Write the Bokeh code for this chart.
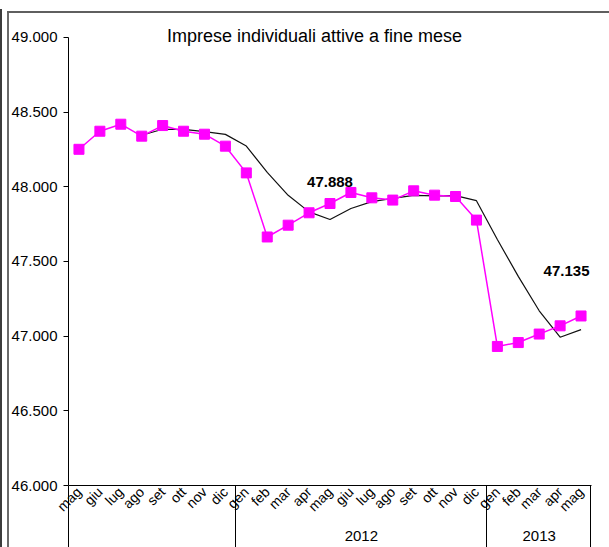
import math
from bokeh.plotting import figure
from bokeh.models import FactorRange, Range1d, FixedTicker, Label, ColumnDataSource
from bokeh.embed import file_html
from bokeh.resources import INLINE

# ---- data ----
year_groups = [" "] * 8 + ["2012"] * 12 + ["2013"] * 5
months = ["mag", "giu", "lug", "ago", "set", "ott", "nov", "dic",
          "gen", "feb", "mar", "apr", "mag", "giu", "lug", "ago", "set", "ott", "nov", "dic",
          "gen", "feb", "mar", "apr", "mag"]
imprese = [48251, 48372, 48419, 48339, 48410, 48372, 48352, 48272,
           48093, 47664, 47743, 47826, 47888, 47962, 47926, 47911, 47973, 47944, 47935, 47777,
           46931, 46957, 47014, 47069, 47135]
media_mobile = [float("nan"), float("nan"), float("nan"), 48345, 48385, 48385, 48369, 48351,
                48273, 48096, 47943, 47832, 47781, 47855, 47901, 47922, 47943, 47939, 47941, 47907,
                47647, 47400, 47170, 46993, 47044]
y_ticks = [46000, 46500, 47000, 47500, 48000, 48500, 49000]
y_tick_labels = ["46.000", "46.500", "47.000", "47.500", "48.000", "48.500", "49.000"]
title_text = "Imprese individuali attive a fine mese"
labelled_points = [12, 24]
labelled_texts = ["47.888", "47.135"]

FONT = "Liberation Sans"

factors = list(zip(year_groups, months))
src = ColumnDataSource(data=dict(x=factors, imprese=imprese, mm=media_mobile))

xr = FactorRange(*factors, factor_padding=0, subgroup_padding=0, group_padding=0, range_padding=0)

# chart-area frame (border of the chart box and the category separators below the axis)
frame_layers = [
    ("#5f5f5f", "7px 11px", "602px 2px"),
    ("#6a6a6a", "7px 11px", "2px 536px"),
    ("#3c3c3c", "0px 9px", "2px 538px"),
    ("#000000", "68px 486px", "1px 61px"),
    ("#000000", "235px 486px", "1px 61px"),
    ("#000000", "486px 486px", "1px 61px"),
    ("#000000", "590px 486px", "1px 61px"),
]
css = {
    "background-color": "white",
    "background-image": ", ".join(f"linear-gradient({c}, {c})" for c, _, _ in frame_layers),
    "background-position": ", ".join(pos for _, pos, _ in frame_layers),
    "background-size": ", ".join(sz for _, _, sz in frame_layers),
    "background-repeat": "no-repeat",
}

p = figure(x_range=xr, y_range=Range1d(46000, 49100), width=609, height=547,
           output_backend="svg", toolbar_location=None,
           min_border_left=68, min_border_right=18, min_border_top=22, min_border_bottom=61)
p.styles = css
p.outline_line_color = None
p.grid.visible = False
p.background_fill_color = "white"
p.border_fill_color = None

# y axis
ya = p.yaxis[0]
ya.bounds = (46000, 49000)
ya.ticker = FixedTicker(ticks=y_ticks)
ya.major_label_overrides = dict(zip(y_ticks, y_tick_labels))
ya.major_label_text_font = FONT
ya.major_label_text_font_size = "15px"
ya.major_label_text_color = "#000000"
ya.axis_line_color = "#000000"
ya.major_tick_line_color = "#000000"
ya.major_tick_out = 5
ya.major_tick_in = 0
ya.minor_tick_line_color = None
ya.major_label_standoff = 6

# x axis
xa = p.xaxis[0]
xa.major_label_orientation = math.pi / 4
xa.major_label_text_font = FONT
xa.major_label_text_font_size = "14px"
xa.major_label_text_color = "#000000"
xa.major_tick_line_color = None
xa.major_tick_out = 0
xa.major_tick_in = 0
xa.major_label_standoff = 4
xa.group_text_font = FONT
xa.group_text_font_size = "15px"
xa.group_text_font_style = "normal"
xa.group_text_color = "#000000"
xa.group_label_orientation = "parallel"
xa.separator_line_color = "#000000"
xa.separator_line_width = 1
xa.axis_line_color = "#000000"

# series
p.line("x", "mm", source=src, line_color="#111111", line_width=1.2)
p.line("x", "imprese", source=src, line_color="#FF00FF", line_width=1.5)
p.scatter("x", "imprese", source=src, marker="square", size=10,
          fill_color="#FF00FF", line_color="#FF00FF")

# title inside the chart area
p.add_layout(Label(x=11.76, y=49007, text=title_text, text_align="center",
                   text_baseline="middle", text_font=FONT, text_font_size="18px",
                   text_color="#000000"))

# data labels
p.add_layout(Label(x=labelled_points[0] + 0.5, y=imprese[labelled_points[0]], y_offset=22,
                   text=labelled_texts[0], text_align="center", text_baseline="middle",
                   text_font=FONT, text_font_size="15px", text_font_style="bold",
                   text_color="#000000"))
p.add_layout(Label(x=labelled_points[1] + 1, x_offset=-2, y=imprese[labelled_points[1]], y_offset=45,
                   text=labelled_texts[1], text_align="right", text_baseline="middle",
                   text_font=FONT, text_font_size="15px", text_font_style="bold",
                   text_color="#000000"))

open("out.html", "w").write(file_html(p, INLINE))
